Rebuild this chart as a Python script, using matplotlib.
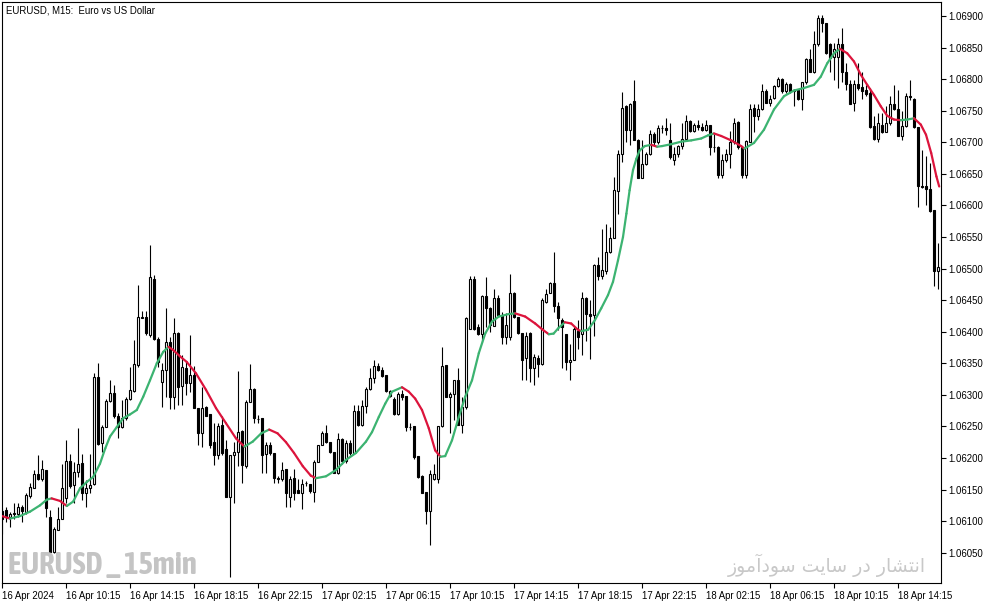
import matplotlib
matplotlib.use('Agg')
import matplotlib.pyplot as plt
from matplotlib.collections import LineCollection
from matplotlib import font_manager
import numpy as np

plt.rcParams['font.family'] = ['Liberation Sans', 'DejaVu Sans']

# ---- EURUSD M15 candles ----
opens = [1.06116,1.06118,1.06107,1.06112,1.06111,1.06123,1.06115,1.06140,1.06153,1.06175,
1.06166,1.06181,1.06107,1.06051,1.06086,1.06103,1.06136,1.06196,1.06157,1.06178,
1.06192,1.06144,1.06152,1.06159,1.06329,1.06223,1.06249,1.06291,1.06303,1.06267,
1.06249,1.06263,1.06294,1.06306,1.06347,1.06424,1.06424,1.06395,1.06484,1.06389,
1.06321,1.06339,1.06384,1.06297,1.06398,1.06314,1.06342,1.06319,1.06332,1.06279,
1.06239,1.06281,1.06270,1.06225,1.06204,1.06253,1.06214,1.06138,1.06205,1.06209,
1.06242,1.06188,1.06288,1.06309,1.06262,1.06263,1.06206,1.06220,1.06208,1.06168,
1.06166,1.06182,1.06139,1.06168,1.06150,1.06145,1.06160,1.06159,1.06146,1.06193,
1.06220,1.06240,1.06225,1.06209,1.06176,1.06230,1.06195,1.06223,1.06208,1.06275,
1.06252,1.06283,1.06309,1.06326,1.06345,1.06340,1.06331,1.06298,1.06294,1.06269,
1.06301,1.06298,1.06249,1.06250,1.06203,1.06171,1.06146,1.06116,1.06166,1.06167,
1.06250,1.06347,1.06296,1.06302,1.06323,1.06252,1.06281,1.06405,1.06483,1.06407,
1.06396,1.06456,1.06437,1.06409,1.06453,1.06426,1.06392,1.06392,1.06461,1.06423,
1.06398,1.06358,1.06398,1.06342,1.06359,1.06349,1.06447,1.06461,1.06477,1.06440,
1.06419,1.06396,1.06352,1.06355,1.06401,1.06397,1.06454,1.06428,1.06426,1.06505,
1.06489,1.06496,1.06526,1.06549,1.06623,1.06682,1.06757,1.06719,1.06765,1.06703,
1.06644,1.06666,1.06681,1.06713,1.06701,1.06723,1.06723,1.06703,1.06672,1.06681,
1.06694,1.06706,1.06734,1.06718,1.06727,1.06724,1.06719,1.06727,1.06693,1.06692,
1.06648,1.06672,1.06681,1.06701,1.06732,1.06692,1.06648,1.06701,1.06754,1.06742,
1.06752,1.06782,1.06763,1.06770,1.06789,1.06800,1.06781,1.06793,1.06781,1.06783,
1.06769,1.06795,1.06832,1.06812,1.06855,1.06897,1.06889,1.06856,1.06835,1.06835,
1.06856,1.06812,1.06793,1.06762,1.06793,1.06788,1.06783,1.06778,1.06726,1.06705,
1.06728,1.06716,1.06730,1.06760,1.06752,1.06710,1.06726,1.06774,1.06768,1.06724,
1.06630,1.06631,1.06626,1.06592,1.06496]
highs = [1.06120,1.06123,1.06115,1.06128,1.06128,1.06125,1.06144,1.06161,1.06181,1.06205,
1.06197,1.06181,1.06117,1.06091,1.06123,1.06190,1.06228,1.06207,1.06194,1.06247,
1.06207,1.06165,1.06207,1.06335,1.06350,1.06252,1.06294,1.06323,1.06315,1.06271,
1.06292,1.06297,1.06344,1.06387,1.06474,1.06433,1.06433,1.06537,1.06490,1.06392,
1.06350,1.06437,1.06392,1.06421,1.06400,1.06363,1.06352,1.06395,1.06345,1.06279,
1.06313,1.06282,1.06270,1.06255,1.06255,1.06266,1.06229,1.06204,1.06225,1.06337,
1.06245,1.06292,1.06349,1.06311,1.06268,1.06263,1.06226,1.06226,1.06208,1.06172,
1.06193,1.06182,1.06171,1.06182,1.06166,1.06166,1.06164,1.06159,1.06197,1.06221,
1.06242,1.06253,1.06226,1.06210,1.06239,1.06231,1.06229,1.06229,1.06284,1.06284,
1.06292,1.06313,1.06342,1.06355,1.06351,1.06344,1.06331,1.06308,1.06297,1.06305,
1.06308,1.06298,1.06255,1.06250,1.06203,1.06173,1.06146,1.06181,1.06190,1.06250,
1.06376,1.06347,1.06305,1.06324,1.06342,1.06297,1.06423,1.06488,1.06488,1.06413,
1.06458,1.06487,1.06439,1.06468,1.06458,1.06431,1.06429,1.06492,1.06463,1.06424,
1.06398,1.06400,1.06400,1.06365,1.06363,1.06453,1.06468,1.06479,1.06527,1.06447,
1.06422,1.06397,1.06381,1.06408,1.06418,1.06463,1.06455,1.06450,1.06508,1.06518,
1.06563,1.06571,1.06566,1.06645,1.06688,1.06780,1.06759,1.06762,1.06798,1.06705,
1.06704,1.06685,1.06719,1.06716,1.06727,1.06727,1.06738,1.06730,1.06693,1.06695,
1.06730,1.06743,1.06735,1.06730,1.06735,1.06730,1.06736,1.06727,1.06713,1.06694,
1.06682,1.06690,1.06718,1.06739,1.06733,1.06694,1.06703,1.06761,1.06761,1.06760,
1.06793,1.06784,1.06775,1.06791,1.06804,1.06802,1.06796,1.06794,1.06784,1.06784,
1.06796,1.06833,1.06847,1.06877,1.06902,1.06902,1.06889,1.06857,1.06857,1.06865,
1.06881,1.06826,1.06798,1.06798,1.06826,1.06812,1.06790,1.06786,1.06741,1.06746,
1.06746,1.06757,1.06774,1.06791,1.06783,1.06749,1.06778,1.06799,1.06770,1.06725,
1.06688,1.06678,1.06667,1.06592,1.06540]
lows = [1.06080,1.06099,1.06091,1.06104,1.06107,1.06099,1.06112,1.06136,1.06152,1.06165,
1.06164,1.06107,1.06049,1.06049,1.06086,1.06103,1.06128,1.06152,1.06128,1.06170,
1.06133,1.06123,1.06144,1.06157,1.06220,1.06210,1.06249,1.06289,1.06263,1.06231,
1.06247,1.06260,1.06292,1.06305,1.06344,1.06421,1.06395,1.06392,1.06387,1.06344,
1.06281,1.06297,1.06278,1.06278,1.06284,1.06284,1.06300,1.06305,1.06279,1.06221,
1.06218,1.06266,1.06216,1.06189,1.06198,1.06205,1.06138,1.06012,1.06129,1.06187,
1.06161,1.06184,1.06288,1.06256,1.06255,1.06176,1.06176,1.06205,1.06161,1.06161,
1.06163,1.06122,1.06123,1.06134,1.06144,1.06119,1.06155,1.06144,1.06130,1.06193,
1.06220,1.06223,1.06208,1.06176,1.06175,1.06191,1.06192,1.06205,1.06206,1.06250,
1.06250,1.06271,1.06307,1.06319,1.06338,1.06329,1.06305,1.06297,1.06268,1.06268,
1.06292,1.06243,1.06245,1.06199,1.06169,1.06144,1.06096,1.06062,1.06165,1.06161,
1.06249,1.06296,1.06240,1.06260,1.06252,1.06240,1.06278,1.06404,1.06402,1.06395,
1.06384,1.06407,1.06400,1.06409,1.06425,1.06381,1.06381,1.06387,1.06421,1.06397,
1.06323,1.06323,1.06321,1.06315,1.06329,1.06347,1.06445,1.06461,1.06431,1.06402,
1.06342,1.06339,1.06323,1.06355,1.06373,1.06363,1.06386,1.06357,1.06393,1.06482,
1.06484,1.06492,1.06524,1.06548,1.06587,1.06669,1.06701,1.06695,1.06703,1.06644,
1.06644,1.06664,1.06680,1.06695,1.06698,1.06714,1.06711,1.06674,1.06664,1.06677,
1.06690,1.06704,1.06716,1.06716,1.06719,1.06718,1.06718,1.06680,1.06685,1.06643,
1.06643,1.06669,1.06660,1.06698,1.06690,1.06644,1.06644,1.06700,1.06716,1.06736,
1.06751,1.06762,1.06757,1.06768,1.06788,1.06778,1.06778,1.06778,1.06757,1.06767,
1.06751,1.06793,1.06811,1.06810,1.06853,1.06874,1.06840,1.06812,1.06799,1.06786,
1.06796,1.06783,1.06760,1.06749,1.06783,1.06769,1.06774,1.06723,1.06704,1.06701,
1.06715,1.06716,1.06728,1.06751,1.06710,1.06703,1.06724,1.06767,1.06723,1.06598,
1.06628,1.06600,1.06589,1.06473,1.06467]
closes = [1.06104,1.06107,1.06112,1.06113,1.06123,1.06116,1.06141,1.06154,1.06175,1.06166,
1.06182,1.06120,1.06051,1.06087,1.06104,1.06152,1.06196,1.06155,1.06178,1.06191,
1.06144,1.06152,1.06158,1.06329,1.06222,1.06249,1.06291,1.06303,1.06267,1.06249,
1.06263,1.06293,1.06307,1.06349,1.06424,1.06422,1.06398,1.06486,1.06389,1.06352,
1.06340,1.06384,1.06297,1.06398,1.06313,1.06344,1.06318,1.06332,1.06279,1.06239,
1.06279,1.06266,1.06221,1.06204,1.06251,1.06208,1.06138,1.06204,1.06209,1.06241,
1.06189,1.06288,1.06309,1.06263,1.06262,1.06205,1.06220,1.06208,1.06168,1.06167,
1.06181,1.06145,1.06167,1.06144,1.06145,1.06159,1.06160,1.06148,1.06193,1.06220,
1.06240,1.06225,1.06209,1.06177,1.06230,1.06195,1.06223,1.06208,1.06275,1.06253,
1.06283,1.06309,1.06327,1.06345,1.06339,1.06330,1.06306,1.06306,1.06269,1.06301,
1.06297,1.06249,1.06249,1.06202,1.06170,1.06145,1.06116,1.06175,1.06175,1.06250,
1.06345,1.06297,1.06302,1.06323,1.06252,1.06281,1.06421,1.06484,1.06405,1.06396,
1.06456,1.06437,1.06410,1.06453,1.06426,1.06392,1.06410,1.06461,1.06423,1.06398,
1.06355,1.06393,1.06342,1.06360,1.06349,1.06450,1.06459,1.06477,1.06440,1.06421,
1.06408,1.06352,1.06355,1.06405,1.06392,1.06454,1.06428,1.06425,1.06505,1.06489,
1.06497,1.06526,1.06549,1.06624,1.06682,1.06755,1.06719,1.06761,1.06703,1.06644,
1.06666,1.06681,1.06713,1.06701,1.06723,1.06723,1.06719,1.06676,1.06681,1.06694,
1.06706,1.06734,1.06718,1.06727,1.06724,1.06719,1.06727,1.06693,1.06693,1.06648,
1.06672,1.06681,1.06701,1.06730,1.06692,1.06648,1.06702,1.06752,1.06742,1.06752,
1.06782,1.06763,1.06768,1.06789,1.06800,1.06781,1.06793,1.06781,1.06783,1.06769,
1.06795,1.06832,1.06812,1.06855,1.06897,1.06889,1.06841,1.06833,1.06847,1.06856,
1.06811,1.06793,1.06761,1.06793,1.06786,1.06781,1.06776,1.06724,1.06705,1.06730,
1.06716,1.06730,1.06760,1.06752,1.06710,1.06726,1.06774,1.06772,1.06724,1.06630,
1.06629,1.06626,1.06591,1.06496,1.06503]

# ---- smoothed moving average (bar position, value) ----
ma_pos = [0,2,4.5,7,9.5,11.2,12.4,14.5,16.2,17.8,19.5,21.2,22.8,24.5,25.8,27,28.7,30.3,32,33.7,
35.3,37,38.7,40.3,41.6,42.8,44.5,46.2,48.5,51,53.5,56,58.5,60.6,62.7,64.8,66.8,68.9,71,73,
75.2,77.2,78.5,81,83.5,86,88.5,91,92.5,94.2,95.8,97.5,100,101.7,103.3,105,106.7,108.3,109.6,110.8,
112.5,114.2,115.8,117.5,119.2,120.8,122.5,124.2,126.7,128.3,130.8,133.3,135,136.7,137.9,139,140.7,142.3,144,144.8,
146.5,148.2,149.8,151.5,152.75,154,155.25,156.1,156.9,157.75,158.6,159.4,160.7,162.3,163.8,165,167.3,169.8,172.3,174.8,
176.5,178,179.8,182.3,184.8,185.6,188,190.5,193,195.5,198,200.5,203,204.7,206.3,208,209.5,211.3,213,214.7,
216.3,218,219.7,221.3,223,224.7,226.3,228,229.7,231,232.3,233.6,234.3]
ma_val = [1.06108,1.06104,1.06108,1.06115,1.06125,1.06134,1.06136,1.06132,1.06124,1.06131,
1.06152,1.06162,1.06170,1.06191,1.06215,1.06234,1.06249,1.06263,1.06269,1.06276,
1.06297,1.06323,1.06350,1.06368,1.06376,1.06371,1.06361,1.06352,1.06334,1.06308,
1.06279,1.06255,1.06231,1.06218,1.06226,1.06239,1.06245,1.06239,1.06225,1.06208,
1.06187,1.06172,1.06168,1.06171,1.06181,1.06197,1.06208,1.06226,1.06241,1.06265,
1.06286,1.06305,1.06312,1.06305,1.06294,1.06276,1.06247,1.06212,1.06202,1.06203,
1.06228,1.06265,1.06297,1.06323,1.06366,1.06397,1.06416,1.06424,1.06428,1.06429,
1.06424,1.06413,1.06404,1.06396,1.06397,1.06405,1.06415,1.06413,1.06403,1.06401,
1.06403,1.06418,1.06437,1.06458,1.06479,1.06513,1.06550,1.06587,1.06624,1.06656,
1.06674,1.06687,1.06694,1.06696,1.06693,1.06694,1.06697,1.06701,1.06703,1.06706,
1.06711,1.06714,1.06710,1.06703,1.06694,1.06690,1.06699,1.06720,1.06752,1.06773,
1.06782,1.06786,1.06791,1.06804,1.06825,1.06841,1.06848,1.06841,1.06828,1.06807,
1.06791,1.06775,1.06757,1.06742,1.06736,1.06735,1.06736,1.06738,1.06728,1.06712,
1.06683,1.06646,1.06630]

# ---- axis labels ----
time_pos = [0,16,32,48,64,80,96,112,128,144,160,176,192,208,224]
time_labels = ['16 Apr 2024','16 Apr 10:15','16 Apr 14:15','16 Apr 18:15','16 Apr 22:15',
               '17 Apr 02:15','17 Apr 06:15','17 Apr 10:15','17 Apr 14:15','17 Apr 18:15',
               '17 Apr 22:15','18 Apr 02:15','18 Apr 06:15','18 Apr 10:15','18 Apr 14:15']
price_ticks = [1.06050,1.06100,1.06150,1.06200,1.06250,1.06300,1.06350,1.06400,1.06450,
               1.06500,1.06550,1.06600,1.06650,1.06700,1.06750,1.06800,1.06850,1.06900]

W, H = 994, 605
fig = plt.figure(figsize=(W/100, H/100), dpi=100)
fig.patch.set_facecolor('white')
ax = fig.add_axes([2/W, 22/H, 939/W, 581/H])
ax.set_facecolor('white')

o = np.array(opens); h = np.array(highs); l = np.array(lows); c = np.array(closes)
x = np.arange(len(o))
up = c >= o

ax.vlines(x, l, h, color='black', linewidth=0.8, zorder=2)
ax.bar(x, np.abs(c - o), bottom=np.minimum(o, c), width=0.55,
       color=np.where(up, 'white', 'black'), edgecolor='black', linewidth=0.8, zorder=3)

# MA coloured by slope
mp = np.array(ma_pos); mv = np.array(ma_val)
segs = np.stack([np.column_stack([mp[:-1], mv[:-1]]), np.column_stack([mp[1:], mv[1:]])], axis=1)
cols = ['#3CB371' if d >= 0 else '#DC143C' for d in np.diff(mv)]
ax.add_collection(LineCollection(segs, colors=cols, linewidths=1.6, zorder=4, capstyle='round'))

ax.set_xlim(0, 234.75)
ax.set_ylim(1.06002, 1.069222)

ax.set_xticks(time_pos)
ax.set_xticklabels(time_labels)
for t in ax.get_xticklabels():
    t.set_ha('left')
ax.yaxis.tick_right()
ax.set_yticks(price_ticks)
ax.set_yticklabels(['%.5f' % v for v in price_ticks])
ax.tick_params(axis='both', direction='out', length=3.5, width=0.8, labelsize=6.9,
               colors='black')
ax.tick_params(axis='x', pad=2)
ax.tick_params(axis='y', pad=1.5)
for s in ax.spines.values():
    s.set_linewidth(0.8)
    s.set_color('black')

fig.text(6/W, 1 - 10.5/H, 'EURUSD, M15:  Euro vs US Dollar', fontsize=6.9,
         va='center', ha='left', color='black')

# pick the most condensed bold font that is installed
rank = {'ultra-condensed': 0, 'extra-condensed': 1, 'condensed': 2, 'semi-condensed': 3}
best = None
for f in font_manager.fontManager.ttflist:
    st = f.stretch if isinstance(f.stretch, str) else 'normal'
    r_ = rank.get(st, 4 if ('Condensed' in f.name or 'Narrow' in f.name) else 9)
    wt = f.weight if isinstance(f.weight, (int, float)) else (700 if 'bold' in str(f.weight) else 400)
    key = (r_, -min(wt, 800))
    if r_ < 9 and (best is None or key < best[0]):
        best = (key, f)
if best is not None:
    wm_props = dict(family=[best[1].name], fontweight='bold', fontstretch=best[1].stretch)
else:
    wm_props = dict(family=['Liberation Sans'], fontweight='bold')

wm = fig.text(8/W, 1 - 565/H, 'EURUSD _ 15min', fontsize=21, color='#c4c4c4',
              va='center', ha='left', **wm_props)

# Persian watermark (Arabic presentation forms, visual order)
fa = '\uFEAF\uFEEE\uFEE3\uFE81\uFEA9\uFEEE\uFEB3 \uFE96\uFEF3\uFE8E\uFEB3 \uFEAD\uFEA9 \uFEAD\uFE8E\uFEB8\uFE98\uFEE7\uFE8D'
fat = fig.text(926/W, 1 - 565/H, fa, fontsize=15, family=['DejaVu Sans'], color='#c8c8c8',
               va='center', ha='right')

# fit watermark widths to the reference
r = fig.canvas.get_renderer()
for t, target in ((wm, 189.0), (fat, 198.0)):
    w = t.get_window_extent(r).width
    t.set_fontsize(t.get_fontsize() * target / w)

fig.savefig('out.png', dpi=100, facecolor='white')
